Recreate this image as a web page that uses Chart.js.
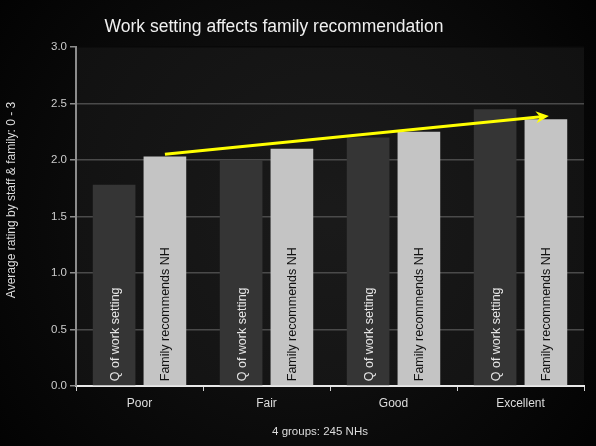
<!DOCTYPE html>
<html>
<head>
<meta charset="utf-8">
<script src="https://cdn.jsdelivr.net/npm/chart.js@4"></script>
<style>
  html, body { margin: 0; padding: 0; background: #000; }
  #wrap { width: 596px; height: 446px; }
</style>
</head>
<body>
<div id="wrap"><canvas id="ratingChart" width="596" height="446"></canvas></div>
<script>
// Groups and average ratings
const categories = ['Poor', 'Fair', 'Good', 'Excellent'];
const workSetting = [1.78, 2.00, 2.20, 2.45];
const familyRec = [2.03, 2.10, 2.25, 2.36];
const seriesNames = ['Q of work setting', 'Family recommends NH'];

// Trend arrow over the family bars: group index and rating at each end
const trendIndex = [0, 3];
const trendValues = [2.05, 2.39];

const chartTitle = 'Work setting affects family recommendation';
const yTitle = 'Average rating by staff & family: 0 - 3';
const xTitle = '4 groups: 245 NHs';

const FONT = 'Arial, "Liberation Sans", sans-serif';

// Dark background behind the whole chart and the plot area
const backdrop = {
    id: 'backdrop',
    beforeDraw(chart) {
        const { ctx, width, height, chartArea: a } = chart;
        ctx.save();
        let g = ctx.createRadialGradient(width / 2, height / 2, 20, width / 2, height / 2, width * 0.7);
        g.addColorStop(0, '#161616');
        g.addColorStop(1, '#000000');
        ctx.fillStyle = g;
        ctx.fillRect(0, 0, width, height);
        const cx = (a.left + a.right) / 2, cy = (a.top + a.bottom) / 2;
        g = ctx.createRadialGradient(cx, cy, 10, cx, cy, (a.right - a.left) * 0.6);
        g.addColorStop(0, '#1a1a1a');
        g.addColorStop(1, '#111111');
        ctx.fillStyle = g;
        ctx.fillRect(a.left, a.top, a.right - a.left, a.bottom - a.top);
        ctx.restore();
    }
};

// Chart title and axis titles, placed by hand
const titles = {
    id: 'titles',
    afterDraw(chart) {
        const { ctx } = chart;
        ctx.save();
        ctx.textAlign = 'center';
        ctx.textBaseline = 'middle';
        ctx.fillStyle = '#f0f0f0';
        ctx.font = '17.5px ' + FONT;
        ctx.fillText(chartTitle, 274, 27);
        ctx.fillStyle = '#dddddd';
        ctx.font = '11.5px ' + FONT;
        ctx.fillText(xTitle, 320, 432);
        ctx.translate(12, 200);
        ctx.rotate(-Math.PI / 2);
        ctx.font = '12px ' + FONT;
        ctx.fillText(yTitle, 0, 0);
        ctx.restore();
    }
};

// Series name written upright inside every bar
const barText = {
    id: 'barText',
    afterDatasetsDraw(chart) {
        const { ctx } = chart;
        const colors = ['#e6e6e6', '#111111'];
        ctx.save();
        ctx.font = '12.5px ' + FONT;
        ctx.textAlign = 'left';
        ctx.textBaseline = 'middle';
        chart.data.datasets.forEach((ds, di) => {
            chart.getDatasetMeta(di).data.forEach(bar => {
                ctx.save();
                ctx.translate(bar.x + 1, bar.base - 4);
                ctx.rotate(-Math.PI / 2);
                ctx.fillStyle = colors[di];
                ctx.fillText(seriesNames[di], 0, 0);
                ctx.restore();
            });
        });
        ctx.restore();
    }
};

// Yellow arrow across the family bars
const trendArrow = {
    id: 'trendArrow',
    afterDatasetsDraw(chart) {
        const { ctx } = chart;
        const y = chart.scales.y;
        const bars = chart.getDatasetMeta(1).data;
        const x1 = bars[trendIndex[0]].x, y1 = y.getPixelForValue(trendValues[0]);
        const x2 = bars[trendIndex[1]].x + 3, y2 = y.getPixelForValue(trendValues[1]);
        const ang = Math.atan2(y2 - y1, x2 - x1);
        ctx.save();
        ctx.strokeStyle = '#ffff00';
        ctx.fillStyle = '#ffff00';
        ctx.lineWidth = 3;
        ctx.beginPath();
        ctx.moveTo(x1, y1);
        ctx.lineTo(x2 - 8 * Math.cos(ang), y2 - 8 * Math.sin(ang));
        ctx.stroke();
        ctx.translate(x2, y2);
        ctx.rotate(ang);
        ctx.beginPath();
        ctx.moveTo(0, 0);
        ctx.lineTo(-13, -6);
        ctx.lineTo(-9, 0);
        ctx.lineTo(-13, 6);
        ctx.closePath();
        ctx.fill();
        ctx.restore();
    }
};

new Chart(document.getElementById('ratingChart'), {
    type: 'bar',
    data: {
        labels: categories,
        datasets: [
            {
                label: seriesNames[0],
                data: workSetting,
                backgroundColor: '#353535',
                barPercentage: 0.84,
                categoryPercentage: 0.8
            },
            {
                label: seriesNames[1],
                data: familyRec,
                backgroundColor: '#c4c4c4',
                barPercentage: 0.84,
                categoryPercentage: 0.8
            }
        ]
    },
    options: {
        responsive: false,
        animation: false,
        layout: { padding: { left: 0, right: 12, top: 47, bottom: 0 } },
        plugins: {
            legend: { display: false },
            tooltip: { enabled: false },
            title: { display: false }
        },
        scales: {
            x: {
                grid: {
                    drawOnChartArea: false,
                    drawTicks: true,
                    tickLength: 5,
                    color: '#d0d0d0'
                },
                border: { color: '#e8e8e8', width: 2 },
                ticks: {
                    color: '#dddddd',
                    padding: 5,
                    font: { family: FONT, size: 12 }
                },
                afterFit(scale) { scale.height = 60; }
            },
            y: {
                min: 0,
                max: 3,
                ticks: {
                    stepSize: 0.5,
                    color: '#cccccc',
                    padding: 3,
                    font: { family: FONT, size: 11.5 },
                    callback: v => v.toFixed(1)
                },
                grid: {
                    color: ctx => ctx.tick && ctx.tick.value === 3 ? '#080808' : '#4a4a4a',
                    tickColor: '#8c8c8c',
                    tickLength: 6,
                    lineWidth: 1.5
                },
                border: { color: '#8c8c8c', width: 2 },
                afterFit(scale) { scale.width = 76; }
            }
        }
    },
    plugins: [backdrop, barText, trendArrow, titles]
});
</script>
</body>
</html>
